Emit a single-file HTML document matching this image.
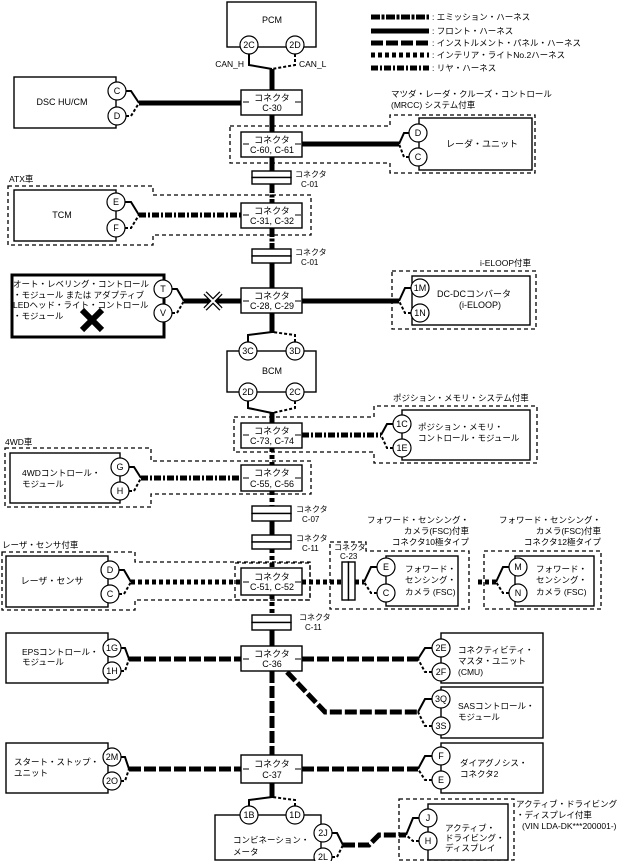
<!DOCTYPE html>
<html><head><meta charset="utf-8">
<style>
html,body{margin:0;padding:0;background:#fff;}
svg{display:block;font-family:"Liberation Sans","Noto Sans CJK JP",sans-serif;}
.bx{fill:#fff;stroke:#000;stroke-width:1.4;}
.gb{fill:none;stroke:#000;stroke-width:1.3;stroke-dasharray:4,3;}
.f{stroke:#000;stroke-width:5;fill:none;}
.e{stroke:#000;stroke-width:5;fill:none;stroke-dasharray:9,1.5,3,1.5;}
.i{stroke:#000;stroke-width:5;fill:none;stroke-dasharray:12,3;}
.n{stroke:#000;stroke-width:5;fill:none;stroke-dasharray:4,3;}
.r{stroke:#000;stroke-width:5;fill:none;stroke-dasharray:7,2,2,2;}
.t{stroke:#000;stroke-width:2;fill:none;}
.td{stroke:#000;stroke-width:2;fill:none;stroke-dasharray:3,2;}
.c{fill:#fff;stroke:#000;stroke-width:1.2;}
text{font-size:8.5px;fill:#000;}
.s{font-size:8px;}
.m{text-anchor:middle;}
.ct{text-anchor:middle;dominant-baseline:central;font-size:9px;}
</style></head><body>
<svg width="627" height="861" viewBox="0 0 627 861" xmlns="http://www.w3.org/2000/svg">

<line class="e" x1="371" y1="17" x2="429" y2="17"/><text x="432" y="20">: エミッション・ハーネス</text>
<line class="f" x1="371" y1="31" x2="429" y2="31"/><text x="432" y="34">: フロント・ハーネス</text>
<line class="i" x1="371" y1="43" x2="429" y2="43"/><text x="432" y="46">: インストルメント・パネル・ハーネス</text>
<line class="n" x1="371" y1="55" x2="429" y2="55"/><text x="432" y="58">: インテリア・ライトNo.2ハーネス</text>
<line class="r" x1="371" y1="68" x2="429" y2="68"/><text x="432" y="71">: リヤ・ハーネス</text>

<line class="f" x1="272" y1="69" x2="272" y2="90"/>
<line class="f" x1="272" y1="115" x2="272" y2="132"/>
<line class="f" x1="272" y1="157" x2="272" y2="171"/>
<line class="e" x1="272" y1="184" x2="272" y2="203"/>
<line class="e" x1="272" y1="228" x2="272" y2="249"/>
<line class="f" x1="272" y1="263" x2="272" y2="288"/>
<line class="f" x1="272" y1="313" x2="272" y2="333"/>
<line class="f" x1="272" y1="412" x2="272" y2="423"/>
<line class="n" x1="272" y1="448" x2="272" y2="465"/>
<line class="n" x1="272" y1="491" x2="272" y2="506"/>
<line class="f" x1="272" y1="521" x2="272" y2="535"/>
<line class="n" x1="272" y1="549" x2="272" y2="568"/>
<line class="n" x1="272" y1="595" x2="272" y2="615"/>
<line class="f" x1="272" y1="630" x2="272" y2="646"/>
<line class="i" x1="272" y1="671" x2="272" y2="755"/>
<line class="f" x1="272" y1="783" x2="272" y2="798"/>

<rect class="bx" x="227" y="2" width="89" height="45"/>
<text class="ct" x="272" y="20">PCM</text>
<polyline class="t" points="249,54 249,65 272,69"/>
<polyline class="td" points="295,54 295,65 272,69"/>
<circle class="c" cx="249" cy="45" r="9"/><text class="ct" x="249" y="45">2C</text>
<circle class="c" cx="295" cy="45" r="9"/><text class="ct" x="295" y="45">2D</text>
<text x="244" y="67" text-anchor="end">CAN_H</text>
<text x="299" y="67">CAN_L</text>

<rect class="bx" x="14" y="77" width="102" height="51"/>
<text class="ct" x="62" y="102">DSC HU/CM</text>
<polyline class="t" points="126,91 131,91 139,103"/>
<polyline class="td" points="126,116 131,116 139,103"/>
<line class="f" x1="139" y1="103" x2="241" y2="103"/>
<circle class="c" cx="117" cy="91" r="9"/><text class="ct" x="117" y="91">C</text>
<circle class="c" cx="117" cy="116" r="9"/><text class="ct" x="117" y="116">D</text>

<rect class="bx" x="241" y="90" width="61" height="25"/>
<text class="ct s" x="272" y="98">コネクタ</text><text class="ct s" x="272" y="108">C-30</text>
<line class="t" style="stroke-width:1" x1="243" y1="102" x2="249" y2="102"/><line class="t" style="stroke-width:1" x1="295" y1="102" x2="301" y2="102"/>

<text x="391" y="97">マツダ・レーダ・クルーズ・コントロール</text>
<text x="391" y="108">(MRCC) システム付車</text>
<polygon class="gb" points="230,126 390,126 390,115 535,115 535,173 390,173 390,163 230,163"/>
<rect class="bx" x="419" y="118" width="113" height="52"/>
<text class="ct" x="482" y="144">レーダ・ユニット</text>
<line class="f" x1="302" y1="144" x2="399" y2="144"/>
<polyline class="t" points="409,133 404,133 399,144"/>
<polyline class="td" points="409,157 404,157 399,144"/>
<circle class="c" cx="418" cy="133" r="9"/><text class="ct" x="418" y="133">D</text>
<circle class="c" cx="418" cy="157" r="9"/><text class="ct" x="418" y="157">C</text>
<rect class="bx" x="241" y="132" width="61" height="25"/>
<text class="ct s" x="272" y="140">コネクタ</text><text class="ct s" x="272" y="150">C-60, C-61</text>
<line class="t" style="stroke-width:1" x1="243" y1="144" x2="249" y2="144"/><line class="t" style="stroke-width:1" x1="295" y1="144" x2="301" y2="144"/>

<rect class="bx" x="252" y="171" width="39" height="6.5"/><rect class="bx" x="252" y="177.5" width="39" height="6.5"/>
<text class="s" x="295" y="177">コネクタ</text><text class="s" x="301" y="187">C-01</text>

<text x="9" y="182">ATX車</text>
<polygon class="gb" points="8,186 153,186 153,195 311,195 311,235 153,235 153,245 8,245"/>
<rect class="bx" x="14" y="190" width="102" height="51"/>
<text class="ct" x="62" y="215">TCM</text>
<polyline class="t" points="125,202 131,202 139,215"/>
<polyline class="td" points="125,228 131,228 139,215"/>
<line class="r" x1="139" y1="215" x2="241" y2="215"/>
<circle class="c" cx="116" cy="202" r="9"/><text class="ct" x="116" y="202">E</text>
<circle class="c" cx="116" cy="228" r="9"/><text class="ct" x="116" y="228">F</text>
<rect class="bx" x="241" y="203" width="61" height="25"/>
<text class="ct s" x="272" y="211">コネクタ</text><text class="ct s" x="272" y="221">C-31, C-32</text>
<line class="t" style="stroke-width:1" x1="243" y1="215" x2="249" y2="215"/><line class="t" style="stroke-width:1" x1="295" y1="215" x2="301" y2="215"/>

<rect class="bx" x="252" y="249" width="39" height="7"/><rect class="bx" x="252" y="256" width="39" height="7"/>
<text class="s" x="295" y="255">コネクタ</text><text class="s" x="301" y="265">C-01</text>

<rect x="12" y="275" width="152" height="62" fill="#fff" stroke="#000" stroke-width="3"/>
<text x="13" y="287">オート・レベリング・コントロール</text>
<text x="13" y="298">・モジュール または アダプティブ</text>
<text x="13" y="308">LEDヘッド・ライト・コントロール</text>
<text x="13" y="319">・モジュール</text>
<path d="M82,310 L102,330 M102,310 L82,330" stroke="#000" stroke-width="6"/>
<polyline class="t" points="172,289 177,289 184,301"/>
<polyline class="td" points="172,313 177,313 184,301"/>
<line class="f" x1="184" y1="301" x2="241" y2="301"/>
<circle class="c" cx="163" cy="289" r="9"/><text class="ct" x="163" y="289">T</text>
<circle class="c" cx="163" cy="313" r="9"/><text class="ct" x="163" y="313">V</text>
<path d="M205,293 L221,309 M221,293 L205,309" stroke="#000" stroke-width="4.5"/>
<path d="M205,293 L221,309 M221,293 L205,309" stroke="#fff" stroke-width="2"/>

<text x="480" y="266">i-ELOOP付車</text>
<rect class="gb" x="392" y="271" width="144" height="58"/>
<rect class="bx" x="412" y="276" width="118" height="49"/>
<text class="ct" x="474" y="294">DC-DCコンバータ</text>
<text class="ct" x="480" y="305">(i-ELOOP)</text>
<line class="f" x1="302" y1="301" x2="399" y2="301"/>
<polyline class="t" points="411,288 405,288 399,301"/>
<polyline class="td" points="411,313 405,313 399,301"/>
<circle class="c" cx="420" cy="288" r="9"/><text class="ct" x="420" y="288">1M</text>
<circle class="c" cx="420" cy="313" r="9"/><text class="ct" x="420" y="313">1N</text>
<rect class="bx" x="241" y="288" width="61" height="25"/>
<text class="ct s" x="272" y="296">コネクタ</text><text class="ct s" x="272" y="306">C-28, C-29</text>
<line class="t" style="stroke-width:1" x1="243" y1="301" x2="249" y2="301"/><line class="t" style="stroke-width:1" x1="295" y1="301" x2="301" y2="301"/>

<rect class="bx" x="227" y="351" width="89" height="41"/>
<text class="ct" x="272" y="371">BCM</text>
<polyline class="t" points="248,342 248,335 272,332"/>
<polyline class="td" points="295,342 295,335 272,332"/>
<polyline class="t" points="248,401 248,408 272,413"/>
<polyline class="td" points="295,401 295,408 272,413"/>
<circle class="c" cx="248" cy="351" r="9"/><text class="ct" x="248" y="351">3C</text>
<circle class="c" cx="295" cy="351" r="9"/><text class="ct" x="295" y="351">3D</text>
<circle class="c" cx="248" cy="392" r="9"/><text class="ct" x="248" y="392">2D</text>
<circle class="c" cx="295" cy="392" r="9"/><text class="ct" x="295" y="392">2C</text>

<text x="393" y="401">ポジション・メモリ・システム付車</text>
<polygon class="gb" points="234,417 374,417 374,406 537,406 537,463 374,463 374,452 234,452"/>
<rect class="bx" x="402" y="410" width="128" height="50"/>
<text x="418" y="430">ポジション・メモリ・</text>
<text x="418" y="441">コントロール・モジュール</text>
<line class="r" x1="302" y1="435" x2="381" y2="435"/>
<polyline class="t" points="393,424 387,424 381,435"/>
<polyline class="td" points="393,448 387,448 381,435"/>
<circle class="c" cx="402" cy="424" r="9"/><text class="ct" x="402" y="424">1C</text>
<circle class="c" cx="402" cy="448" r="9"/><text class="ct" x="402" y="448">1E</text>
<rect class="bx" x="241" y="423" width="61" height="25"/>
<text class="ct s" x="272" y="431">コネクタ</text><text class="ct s" x="272" y="441">C-73, C-74</text>
<line class="t" style="stroke-width:1" x1="243" y1="435" x2="249" y2="435"/><line class="t" style="stroke-width:1" x1="295" y1="435" x2="301" y2="435"/>

<text x="5" y="445">4WD車</text>
<polygon class="gb" points="5,448 151,448 151,461 311,461 311,494 151,494 151,507 5,507"/>
<rect class="bx" x="10" y="453" width="110" height="50"/>
<text x="22" y="476">4WDコントロール・</text>
<text x="22" y="487">モジュール</text>
<polyline class="t" points="129,467 134,467 141,478"/>
<polyline class="td" points="129,491 134,491 141,478"/>
<line class="r" x1="141" y1="478" x2="241" y2="478"/>
<circle class="c" cx="120" cy="467" r="9"/><text class="ct" x="120" y="467">G</text>
<circle class="c" cx="120" cy="491" r="9"/><text class="ct" x="120" y="491">H</text>
<rect class="bx" x="241" y="465" width="61" height="26"/>
<text class="ct s" x="272" y="473">コネクタ</text><text class="ct s" x="272" y="484">C-55, C-56</text>
<line class="t" style="stroke-width:1" x1="243" y1="478" x2="249" y2="478"/><line class="t" style="stroke-width:1" x1="295" y1="478" x2="301" y2="478"/>

<rect class="bx" x="252" y="506" width="39" height="7.5"/><rect class="bx" x="252" y="513.5" width="39" height="7.5"/>
<text class="s" x="296" y="512">コネクタ</text><text class="s" x="302" y="522">C-07</text>
<rect class="bx" x="252" y="535" width="39" height="7"/><rect class="bx" x="252" y="542" width="39" height="7"/>
<text class="s" x="296" y="541">コネクタ</text><text class="s" x="302" y="551">C-11</text>

<text x="2" y="548">レーザ・センサ付車</text>
<polygon class="gb" points="2,552 135,552 135,562 310,562 310,600 135,600 135,610 2,610"/>
<rect class="gb" x="235" y="563" width="75" height="37"/>
<rect class="bx" x="6" y="556" width="102" height="51"/>
<text class="ct" x="52" y="581">レーザ・センサ</text>
<polyline class="t" points="119,570 124,570 131,582"/>
<polyline class="td" points="119,594 124,594 131,582"/>
<line class="n" x1="131" y1="582" x2="241" y2="582"/>
<circle class="c" cx="110" cy="570" r="9"/><text class="ct" x="110" y="570">D</text>
<circle class="c" cx="110" cy="594" r="9"/><text class="ct" x="110" y="594">C</text>
<rect class="bx" x="241" y="568" width="61" height="27"/>
<text class="ct s" x="272" y="577">コネクタ</text><text class="ct s" x="272" y="587">C-51, C-52</text>
<line class="t" style="stroke-width:1" x1="243" y1="582" x2="249" y2="582"/><line class="t" style="stroke-width:1" x1="295" y1="582" x2="301" y2="582"/>

<text x="469" y="523" text-anchor="end">フォワード・センシング・</text>
<text x="469" y="534" text-anchor="end">カメラ(FSC)付車</text>
<text x="469" y="545" text-anchor="end">コネクタ10極タイプ</text>
<polygon class="gb" points="330,542 366,542 366,551 469,551 469,609 330,609"/>
<text class="s" x="334" y="550">コネクタ</text><text class="s" x="340" y="559">C-23</text>
<line class="n" x1="302" y1="582" x2="342" y2="582"/>
<rect class="bx" x="342" y="562" width="6.5" height="38"/><rect class="bx" x="348.5" y="562" width="6.5" height="38"/>
<line class="n" x1="355" y1="582" x2="364" y2="582"/>
<rect class="bx" x="386" y="556" width="72" height="50"/>
<text x="405" y="572">フォワード・</text>
<text x="405" y="583">センシング・</text>
<text x="405" y="595">カメラ (FSC)</text>
<polyline class="t" points="377,567 371,567 364,582"/>
<polyline class="td" points="377,593 371,593 364,582"/>
<circle class="c" cx="386" cy="567" r="9"/><text class="ct" x="386" y="567">E</text>
<circle class="c" cx="386" cy="593" r="9"/><text class="ct" x="386" y="593">C</text>

<text x="601" y="523" text-anchor="end">フォワード・センシング・</text>
<text x="601" y="534" text-anchor="end">カメラ(FSC)付車</text>
<text x="601" y="545" text-anchor="end">コネクタ12極タイプ</text>
<rect class="gb" x="484" y="551" width="117" height="58"/>
<rect class="bx" x="515" y="556" width="79" height="50"/>
<text x="536" y="572">フォワード・</text>
<text x="536" y="583">センシング・</text>
<text x="536" y="595">カメラ (FSC)</text>
<line class="n" x1="478" y1="582" x2="496" y2="582"/>
<polyline class="t" points="509,567 503,567 496,582"/>
<polyline class="td" points="509,593 503,593 496,582"/>
<circle class="c" cx="518" cy="567" r="9"/><text class="ct" x="518" y="567">M</text>
<circle class="c" cx="518" cy="593" r="9"/><text class="ct" x="518" y="593">N</text>

<rect class="bx" x="252" y="615" width="39" height="7.5"/><rect class="bx" x="252" y="622.5" width="39" height="7.5"/>
<text class="s" x="299" y="620">コネクタ</text><text class="s" x="305" y="630">C-11</text>

<rect class="bx" x="6" y="633" width="102" height="50"/>
<text x="22" y="655">EPSコントロール・</text>
<text x="22" y="665">モジュール</text>
<polyline class="t" points="121,648 125,648 129,659"/>
<polyline class="td" points="121,671 125,671 129,659"/>
<line class="i" x1="129" y1="659" x2="241" y2="659"/>
<circle class="c" cx="112" cy="648" r="9"/><text class="ct" x="112" y="648">1G</text>
<circle class="c" cx="112" cy="671" r="9"/><text class="ct" x="112" y="671">1H</text>

<rect class="bx" x="441" y="633" width="102" height="50"/>
<text x="458" y="653">コネクティビティ・</text>
<text x="458" y="664">マスタ・ユニット</text>
<text x="458" y="675">(CMU)</text>
<line class="i" x1="302" y1="659" x2="418" y2="659"/>
<polyline class="t" points="432,648 425,648 418,659"/>
<polyline class="td" points="432,672 425,672 418,659"/>
<circle class="c" cx="441" cy="648" r="9"/><text class="ct" x="441" y="648">2E</text>
<circle class="c" cx="441" cy="672" r="9"/><text class="ct" x="441" y="672">2F</text>

<rect class="bx" x="441" y="687" width="102" height="51"/>
<text x="458" y="709">SASコントロール・</text>
<text x="458" y="720">モジュール</text>
<polyline class="i" points="287,672 325,712 418,712"/>
<polyline class="t" points="432,699 425,699 418,712"/>
<polyline class="td" points="432,726 425,726 418,712"/>
<circle class="c" cx="441" cy="699" r="9"/><text class="ct" x="441" y="699">3Q</text>
<circle class="c" cx="441" cy="726" r="9"/><text class="ct" x="441" y="726">3S</text>

<rect class="bx" x="241" y="646" width="61" height="25"/>
<text class="ct s" x="272" y="654">コネクタ</text><text class="ct s" x="272" y="664">C-36</text>
<line class="t" style="stroke-width:1" x1="243" y1="659" x2="249" y2="659"/><line class="t" style="stroke-width:1" x1="295" y1="659" x2="301" y2="659"/>

<rect class="bx" x="6" y="743" width="102" height="50"/>
<text x="14" y="765">スタート・ストップ・</text>
<text x="14" y="776">ユニット</text>
<polyline class="t" points="121,757 125,757 129,769"/>
<polyline class="td" points="121,781 125,781 129,769"/>
<line class="i" x1="129" y1="769" x2="241" y2="769"/>
<circle class="c" cx="112" cy="757" r="9"/><text class="ct" x="112" y="757">2M</text>
<circle class="c" cx="112" cy="781" r="9"/><text class="ct" x="112" y="781">2O</text>

<rect class="bx" x="441" y="743" width="102" height="50"/>
<text x="460" y="766">ダイアグノシス・</text>
<text x="460" y="777">コネクタ2</text>
<line class="i" x1="302" y1="769" x2="418" y2="769"/>
<polyline class="t" points="432,756 425,756 418,769"/>
<polyline class="td" points="432,780 425,780 418,769"/>
<circle class="c" cx="441" cy="756" r="9"/><text class="ct" x="441" y="756">F</text>
<circle class="c" cx="441" cy="780" r="9"/><text class="ct" x="441" y="780">E</text>

<rect class="bx" x="241" y="755" width="61" height="28"/>
<text class="ct s" x="272" y="764">コネクタ</text><text class="ct s" x="272" y="775">C-37</text>
<line class="t" style="stroke-width:1" x1="243" y1="769" x2="249" y2="769"/><line class="t" style="stroke-width:1" x1="295" y1="769" x2="301" y2="769"/>

<rect class="bx" x="215" y="815" width="106" height="45"/>
<text x="233" y="843">コンビネーション・</text>
<text x="233" y="855">メータ</text>
<polyline class="t" points="249,806 249,800 272,797"/>
<polyline class="td" points="295,806 295,800 272,797"/>
<circle class="c" cx="249" cy="815" r="9"/><text class="ct" x="249" y="815">1B</text>
<circle class="c" cx="295" cy="815" r="9"/><text class="ct" x="295" y="815">1D</text>
<polyline class="t" points="332,833 337,833 343,845"/>
<polyline class="td" points="332,857 337,857 343,845"/>
<polyline class="i" points="343,845 369,845 379,835 406,835"/>
<circle class="c" cx="323" cy="833" r="9"/><text class="ct" x="323" y="833">2J</text>
<circle class="c" cx="323" cy="857" r="9"/><text class="ct" x="323" y="857">2L</text>

<rect class="gb" x="399" y="799" width="115" height="61"/>
<rect class="bx" x="428" y="804" width="80" height="56"/>
<text x="445" y="831">アクティブ・</text>
<text x="445" y="841">ドライビング・</text>
<text x="445" y="851">ディスプレイ</text>
<polyline class="t" points="419,818 413,818 406,835"/>
<polyline class="td" points="419,841 413,841 406,835"/>
<circle class="c" cx="428" cy="818" r="9"/><text class="ct" x="428" y="818">J</text>
<circle class="c" cx="428" cy="841" r="9"/><text class="ct" x="428" y="841">H</text>
<text x="516" y="807">アクティブ・ドライビング</text>
<text x="516" y="818">・ディスプレイ付車</text>
<text x="522" y="829">(VIN LDA-DK***200001-)</text>
</svg>
</body></html>
